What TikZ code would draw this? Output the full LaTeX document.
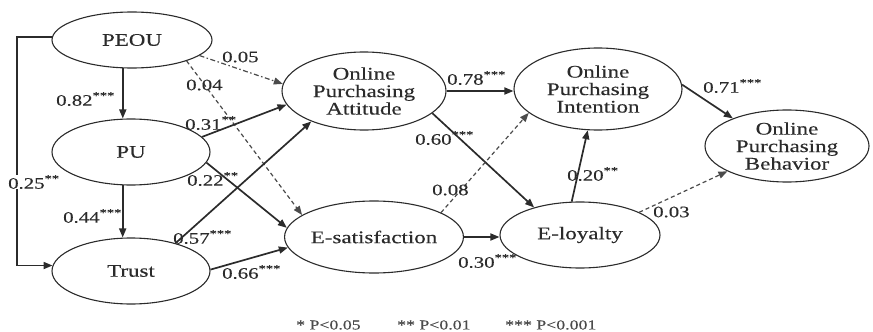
\documentclass[tikz,border=0pt]{standalone}
\usepackage{fontspec}
\setmainfont{Liberation Serif}[FakeStretch=1.3,FakeBold=0.3]
\usetikzlibrary{shapes.geometric,arrows.meta}
\definecolor{ink}{HTML}{2B2B2B}
\begin{document}
\tikzset{
 lat/.style={ellipse, draw=ink, line width=1.1pt, inner sep=0pt, align=center, text=ink, font=\fontsize{17.7}{17.5}\selectfont},
 arr/.style={-{Triangle[length=9pt,width=7pt]}, line width=1.7pt, draw=ink},
 darr/.style={-{Triangle[length=9pt,width=7pt]}, line width=1.2pt, draw=ink!85, dash pattern=on 4pt off 3pt},
 ddarr/.style={-{Triangle[length=9pt,width=7pt]}, line width=1.2pt, draw=ink!85, dash pattern=on 5pt off 2.5pt on 1.5pt off 2.5pt},
 lbl/.style={anchor=west, inner sep=0pt, text=ink, font=\fontsize{16}{16}\selectfont},
 leg/.style={anchor=west, inner sep=0pt, text=ink!85, font=\fontsize{13.7}{14}\selectfont},
}
\begin{tikzpicture}[x=1pt,y=-1pt]
\useasboundingbox (0,0) rectangle (873,332);
\node[lat, minimum width=160pt, minimum height=56pt] (peou) at (132,40) {PEOU};
\node[lat, minimum width=158pt, minimum height=66pt] (pu) at (131,152) {PU};
\node[lat, minimum width=158pt, minimum height=66pt] (trust) at (131,271) {Trust};
\node[lat, minimum width=164pt, minimum height=78pt] (opa) at (364,91) {Online\\Purchasing\\Attitude};
\node[lat, minimum width=176pt, minimum height=72pt] (es) at (374,237) {E-satisfaction};
\node[lat, minimum width=168pt, minimum height=82pt] (opi) at (598,89) {Online\\Purchasing\\Intention};
\node[lat, minimum width=160pt, minimum height=66pt] (el) at (580,235) {E-loyalty};
\node[lat, minimum width=164pt, minimum height=72pt] (opb) at (787,146) {Online\\Purchasing\\Behavior};

\draw[arr] (peou.-108) -- (peou.-108 |- pu.north);
\draw[arr] (pu.-104) -- (pu.-104 |- trust.north);
\coordinate (lp) at (17,38);
\draw[arr] (peou.178) -- (peou.178 -| lp) |- (trust.176);

\draw[ddarr] (peou.-13.5) -- (opa.175);
\draw[darr] (peou.-21.6) -- (es.163);
\draw[arr] (pu.12) -- (opa.190);
\draw[arr] (trust.32) -- (opa.210);
\draw[arr] (pu.-8.5) -- (es.174);
\draw[arr] (trust.1) -- (es.187);
\draw[arr] (opa.east) -- (opa.east -| opi.west);
\draw[arr] (opa.-18) -- (el.149);
\draw[darr] (es.20) -- (opi.199);
\draw[arr] (es.east) -- (es.east -| el.west);
\draw[arr] (el.104) -- (opi.256);
\draw[arr] (opi.3) -- (opb.153);
\draw[darr] (el.21) -- (opb.203);

\node[lbl] (l1) at (56,99) {0.82\textsuperscript{***}};
\node[lbl] (l2) at (222,57) {0.05};
\node[lbl] (l3) at (186,85) {0.04};
\node[lbl] (l4) at (185,123) {0.31\textsuperscript{**}};
\node[lbl] (l5) at (187,179) {0.22\textsuperscript{**}};
\node[lbl] (l6) at (63,216) {0.44\textsuperscript{***}};
\node[lbl] (l7) at (173,237) {0.57\textsuperscript{***}};
\node[lbl] (l8) at (222,272) {0.66\textsuperscript{***}};
\node[lbl, fill=white] (l9) at (8,182) {0.25\textsuperscript{**}};
\node[lbl] (l10) at (447,78) {0.78\textsuperscript{***}};
\node[lbl] (l11) at (415,138) {0.60\textsuperscript{***}};
\node[lbl] (l12) at (432,190) {0.08};
\node[lbl] (l13) at (458,261) {0.30\textsuperscript{***}};
\node[lbl] (l14) at (567,174) {0.20\textsuperscript{**}};
\node[lbl] (l15) at (703,86) {0.71\textsuperscript{***}};
\node[lbl] (l16) at (653,212) {0.03};

\node[leg] (g1) at (296,325) {* P<0.05};
\node[leg] (g2) at (397,325) {** P<0.01};
\node[leg] (g3) at (505,325) {*** P<0.001};
\end{tikzpicture}
\end{document}
